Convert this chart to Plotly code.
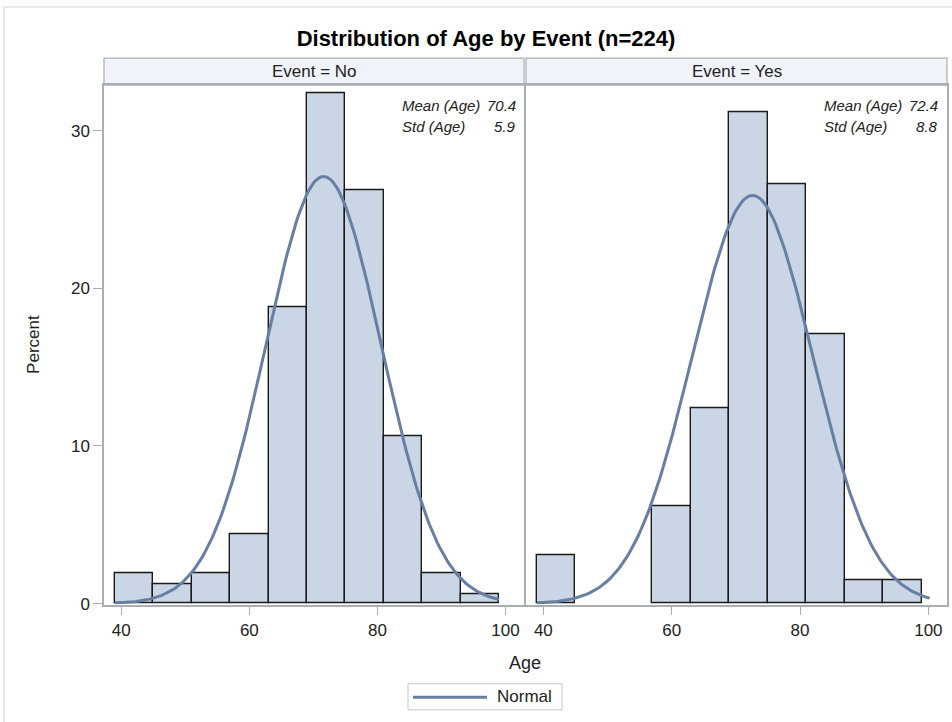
import numpy as np
import plotly.graph_objects as go

# ---------------- data ----------------
BIN_CENTERS = [42, 48, 54, 60, 66, 72, 78, 84, 90, 96]
BIN_WIDTH = 6
PCT_NO = [1.9, 1.2, 1.9, 4.4, 18.8, 32.4, 26.2, 10.6, 1.9, 0.6]
PCT_YES = [3.1, None, None, 6.2, 12.4, 31.2, 26.6, 17.1, 1.5, 1.5]
PANEL_LABELS = ["Event = No", "Event = Yes"]
MEAN_TEXT = ["70.4", "72.4"]
STD_TEXT = ["5.9", "8.8"]
# fitted normal curve parameters (as drawn)
NORM_MU = [71.6, 72.6]
NORM_SIGMA = [9.0, 9.4]
NORM_PEAK = [27.1, 25.9]
NORM_XMIN = [39.0, 39.0]
NORM_XMAX = [99.0, 100.2]
X_TICKS = [40, 60, 80, 100]
Y_TICKS = [0, 10, 20, 30]
TITLE = "Distribution of Age by Event (n=224)"

# ---------------- styling ----------------
W, H = 952, 722
SY = 1 / 0.985  # vertical calibration of pixel targets
FONT = "Liberation Sans, Arial, sans-serif"
BAR_FILL = "#CAD5E5"
CURVE = "#667FA2"
FRAME = "#A9AEB4"
TEXT = "#222222"


def px(x):
    return x / W


def py(y):
    return 1 - (y * SY) / H


PANELS = [(104, 524), (526, 947)]
TOP, BOTTOM = 85, 603

fig = go.Figure()
for i, pct in enumerate([PCT_NO, PCT_YES]):
    xa = "x" if i == 0 else "x2"
    ya = "y" if i == 0 else "y2"
    fig.add_trace(go.Bar(
        x=BIN_CENTERS, y=pct, width=BIN_WIDTH,
        marker=dict(color=BAR_FILL, line=dict(color="#1a1a1a", width=1.4)),
        xaxis=xa, yaxis=ya, showlegend=False, hoverinfo="x+y"))
    xs = np.linspace(NORM_XMIN[i], NORM_XMAX[i], 200)
    ys = NORM_PEAK[i] * np.exp(-0.5 * ((xs - NORM_MU[i]) / NORM_SIGMA[i]) ** 2)
    fig.add_trace(go.Scatter(
        x=xs, y=ys, mode="lines", line=dict(color=CURVE, width=3),
        name="Normal", xaxis=xa, yaxis=ya, showlegend=False))

axis_common = dict(
    showline=True, mirror=True, linecolor=FRAME, linewidth=1.5,
    showgrid=False, zeroline=False, ticklen=9,
    tickcolor=FRAME, tickwidth=1,
    tickfont=dict(family=FONT, size=17, color=TEXT),
)
yr = [-0.06, (BOTTOM - TOP) / 15.72 - 0.06]
xr = [37.3, 102.9]

fig.update_layout(
    width=W, height=H,
    margin=dict(l=0, r=0, t=0, b=0),
    paper_bgcolor="white", plot_bgcolor="white",
    bargap=0,
    showlegend=False,
    xaxis=dict(domain=[px(PANELS[0][0]), px(PANELS[0][1])], range=xr,
               tickvals=X_TICKS, anchor="y", ticks="outside", **axis_common),
    xaxis2=dict(domain=[px(PANELS[1][0]), px(PANELS[1][1])], range=xr,
                tickvals=X_TICKS, anchor="y2", ticks="outside", **axis_common),
    yaxis=dict(domain=[py(BOTTOM), py(TOP)], range=yr, tickvals=Y_TICKS,
               anchor="x", ticks="outside", **axis_common),
    yaxis2=dict(domain=[py(BOTTOM), py(TOP)], range=yr, tickvals=Y_TICKS,
                anchor="x2", showticklabels=False, ticks="", **axis_common),
    title=dict(text="<b>" + TITLE + "</b>", x=px(486), xanchor="center",
               y=py(38), yanchor="middle",
               font=dict(family=FONT, size=22, color="black")),
)

shapes = []
annotations = []
# thin outer frame (top and left edges visible)
shapes.append(dict(type="rect", xref="paper", yref="paper",
                   x0=px(4), x1=px(970), y0=-0.1, y1=py(7),
                   line=dict(color="#D4D4D4", width=1)))
for i, (x0, x1) in enumerate(PANELS):
    shapes.append(dict(type="rect", xref="paper", yref="paper",
                       x0=px(x0), x1=px(x1), y0=py(85), y1=py(58),
                       fillcolor="#F1F3FB", line=dict(color=FRAME, width=1.2),
                       layer="below"))
    annotations.append(dict(text=PANEL_LABELS[i], xref="paper", yref="paper",
                            x=px((x0 + x1) / 2), y=py(71.5), xanchor="center",
                            yanchor="middle", showarrow=False,
                            font=dict(family=FONT, size=17, color=TEXT)))
    off = x0 - 104
    for row, (lab, val) in enumerate([("Mean (Age)", MEAN_TEXT[i]),
                                      ("Std (Age)", STD_TEXT[i])]):
        yy = 105 + row * 21
        annotations.append(dict(text="<i>" + lab + "</i>", xref="paper", yref="paper",
                                x=px(400 + off), y=py(yy), xanchor="left",
                                yanchor="middle", showarrow=False,
                                font=dict(family=FONT, size=15, color=TEXT)))
        annotations.append(dict(text="<i>" + val + "</i>", xref="paper", yref="paper",
                                x=px(518 + off), y=py(yy), xanchor="right",
                                yanchor="middle", showarrow=False,
                                font=dict(family=FONT, size=15, color=TEXT)))

# axis titles
annotations.append(dict(text="Percent", xref="paper", yref="paper",
                        x=px(34), y=py(344), textangle=-90, xanchor="center",
                        yanchor="middle", showarrow=False,
                        font=dict(family=FONT, size=17, color=TEXT)))
annotations.append(dict(text="Age", xref="paper", yref="paper",
                        x=px(525), y=py(661), xanchor="center",
                        yanchor="middle", showarrow=False,
                        font=dict(family=FONT, size=18, color=TEXT)))

# legend (drawn)
shapes.append(dict(type="rect", xref="paper", yref="paper",
                   x0=px(408), x1=px(562), y0=py(708), y1=py(682),
                   line=dict(color="#C8C8C8", width=1), fillcolor="white"))
shapes.append(dict(type="line", xref="paper", yref="paper",
                   x0=px(413), x1=px(487), y0=py(695.5), y1=py(695.5),
                   line=dict(color=CURVE, width=3)))
annotations.append(dict(text="Normal", xref="paper", yref="paper",
                        x=px(495), y=py(695), xanchor="left",
                        yanchor="middle", showarrow=False,
                        font=dict(family=FONT, size=17, color=TEXT)))

fig.update_layout(shapes=shapes, annotations=annotations)
fig.write_html(
    "out.html",
    config={"displayModeBar": False},
    post_script="document.body.style.margin='0';document.documentElement.style.overflow='hidden';",
)
